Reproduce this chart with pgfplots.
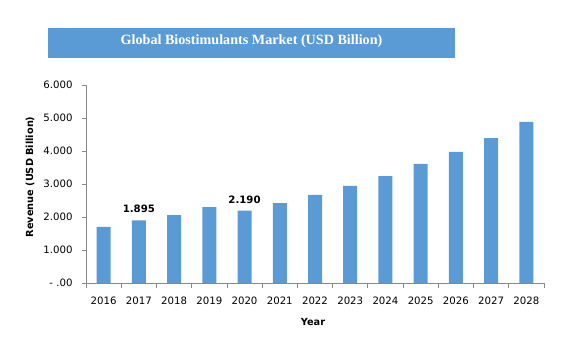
\documentclass[border=0pt]{standalone}
\usepackage{fontspec}
\setmainfont{DejaVu Sans}
\newfontfamily\titlefont{Liberation Serif}
\usepackage{pgfplots}
\pgfplotsset{compat=1.18}
\definecolor{barblue}{HTML}{5B9BD5}
\definecolor{axgray}{HTML}{898989}
\begin{document}
\begin{tikzpicture}
\path[use as bounding box] (0,0) rectangle (586bp,347bp);
\fill[barblue] (48bp,289bp) rectangle (455bp,319bp);
\node[text=white,font=\titlefont\bfseries\fontsize{14.2}{16}\selectfont] at (251.5bp,305.5bp) {Global Biostimulants Market (USD Billion)};
\begin{axis}[
  at={(86bp,64bp)}, anchor=south west,
  scale only axis, width=458bp, height=198bp,
  ybar, bar width=14bp, bar shift=0pt,
  xmin=-0.5, xmax=12.5, ymin=0, ymax=6,
  axis x line*=bottom, axis y line*=left,
  axis line style={axgray, line width=0.8pt},
  xtick={0,...,12},
  xticklabels={2016,2017,2018,2019,2020,2021,2022,2023,2024,2025,2026,2027,2028},
  major x tick style={draw=none},
  minor xtick={-0.5,0.5,...,12.5},
  minor x tick style={axgray, line width=0.8pt},
  minor tick length=5bp,
  ytick={0,1,...,6},
  yticklabels={- .00,1.000,2.000,3.000,4.000,5.000,6.000},
  major y tick style={axgray, line width=0.8pt},
  major tick length=4bp,
  tick align=outside,
  ticklabel style={font=\fontsize{10.2}{12}\selectfont, text=black},
  xticklabel style={yshift=-6bp},
  yticklabel style={xshift=-6bp},
  axis on top=false, clip=false,
]
\addplot[fill=barblue, draw=none] coordinates {
  (0,1.70) (1,1.895) (2,2.06) (3,2.30) (4,2.19) (5,2.42) (6,2.67)
  (7,2.94) (8,3.24) (9,3.61) (10,3.97) (11,4.39) (12,4.88)
};
\addplot[fill=none, draw=none,
  nodes near coords, point meta=explicit symbolic,
  every node near coord/.append style={font=\bfseries\fontsize{10.2}{12}\selectfont, text=black, yshift=4bp}]
  coordinates {(1,1.895)[1.895] (4,2.19)[2.190]};
\end{axis}
\node[rotate=90, font=\bfseries\fontsize{9.8}{11}\selectfont] at (30bp,170bp) {Revenue (USD Billion)};
\node[font=\bfseries\fontsize{9.8}{11}\selectfont] at (313bp,25bp) {Year};
\end{tikzpicture}
\end{document}
